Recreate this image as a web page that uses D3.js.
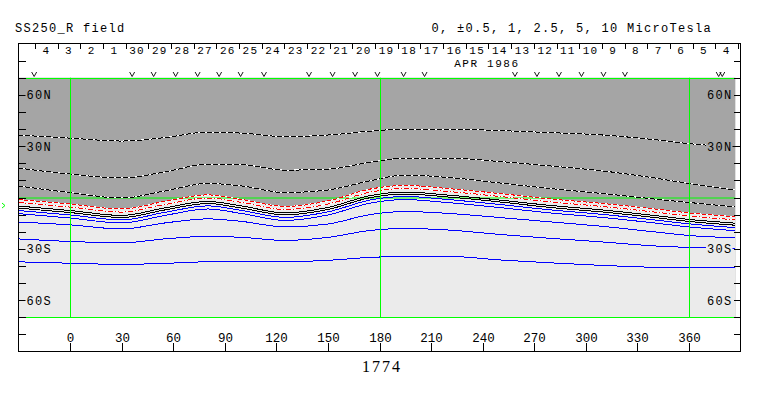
<!DOCTYPE html>
<html><head><meta charset="utf-8">
<script src="https://cdn.jsdelivr.net/npm/d3@7"></script>
<style>body{margin:0;background:#fff}svg{display:block}</style>
</head><body>
<svg id="chart" width="763" height="396"></svg>
<script>
// ---------- data ----------
const lons = [-30, 0, 30, 55, 80, 100, 125, 150, 175, 195, 220, 250, 280, 310, 340, 360, 387];
// negative contours (latitude, degrees)
const negA = [36.5, 34.7, 33.0, 35.0, 38.2, 37.6, 35.6, 36.5, 38.8, 40.0, 40.0, 39.1, 37.9, 36.5, 33.8, 31.5, 29.5];
const negB = [17.2, 13.7, 11.4, 14.9, 19.5, 19.2, 16.0, 16.6, 20.7, 23.0, 23.0, 21.0, 18.4, 15.5, 11.4, 8.2, 4.4];
const negC = [6.7, 2.9, -0.3, 3.8, 8.2, 6.7, 2.9, 4.4, 9.9, 13.1, 11.7, 8.5, 5.2, 2.3, -0.9, -2.9, -5.5];
const negHalf = [-1.2, -3.8, -6.7, -2.3, 1.5, -1.2, -5.2, -2.0, 5.0, 7.0, 5.2, 2.3, -0.9, -3.5, -6.7, -9.0, -11.2];
const negSmall = [-2.9, -5.6, -8.5, -4.1, -0.3, -2.9, -7.0, -3.8, 3.2, 5.2, 3.5, 0.6, -2.6, -5.3, -8.5, -10.8, -13.0];
// neutral / zero contours
const zeroA = [-5.0, -7.6, -10.5, -6.1, -2.3, -5.0, -9.0, -5.8, 1.2, 3.2, 1.4, -1.5, -4.7, -7.3, -10.5, -12.8, -15.0];
const zeroB = [-6.2, -8.8, -11.7, -7.3, -3.5, -6.2, -10.2, -7.0, 0.0, 2.0, 0.3, -2.6, -5.9, -8.5, -11.7, -14.0, -16.2];
// positive contours
const posA = [-7.6, -10.2, -13.1, -8.7, -4.9, -7.6, -11.6, -8.4, -1.4, 0.6, -1.2, -4.1, -7.3, -9.9, -13.1, -15.4, -17.6];
const posB = [-9.4, -12.0, -14.9, -10.5, -6.7, -9.4, -13.4, -10.2, -3.2, -1.2, -3.0, -5.9, -9.1, -11.7, -14.9, -17.2, -19.4];
const posC = [-14.3, -16.0, -18.4, -14.9, -12.5, -14.0, -17.2, -15.5, -9.9, -8.2, -9.3, -11.7, -14.3, -16.9, -20.1, -22.2, -23.6];
const posD = [-24.2, -25.7, -26.5, -24.2, -22.7, -23.3, -25.1, -23.3, -19.2, -18.1, -19.0, -21.6, -23.9, -26.0, -28.3, -29.2, -30.0];
const posE = [-37.6, -38.4, -39.1, -38.5, -37.6, -37.6, -37.6, -36.7, -35.0, -34.4, -34.4, -36.5, -38.2, -39.7, -40.8, -41.1, -41.1];

const lonTicks = [0, 30, 60, 90, 120, 150, 180, 210, 240, 270, 300, 330, 360];
const latLabels = [{lat: 60, t: "60N"}, {lat: 30, t: "30N"}, {lat: -30, t: "30S"}, {lat: -60, t: "60S"}];
const latTickVals = [80, 70, 60, 50, 40, 30, 20, 10, 0, -10, -20, -30, -40, -50, -60, -70, -80];
const greenLons = [0, 180, 360];
const dayLabels = ["4","3","2","1","30","29","28","27","26","25","24","23","22","21","20","19","18","17","16","15","14","13","12","11","10","9","8","7","6","5","4"];
const obsLons = [-20.9, 36.1, 48.6, 61.4, 74.2, 86.7, 99.2, 112.8, 139.0, 152.7, 165.8, 178.8, 194.0, 206.2, 258.8, 271.6, 284.4, 297.5, 310.3, 322.8, 377.3, 379.4];
const monthLabel = "APR 1986", monthLon = 242.5;
const earthLat = -4.7;
const title = "SS250_R field";
const legend = "0, \u00B10.5, 1, 2.5, 5, 10 MicroTesla";
const rotation = "1774";

// ---------- scales ----------
const svg = d3.select("#chart");
const x = d3.scaleLinear().domain([-30, 390]).range([18.5, 740.5]);
const y = d3.scaleLinear().domain([-90, 90]).range([351.5, 43.5]);
const t = d3.scaleUtc().domain([new Date(Date.UTC(1986,3,4)), new Date(Date.UTC(1986,4,5))]).range([x(388.5), x(-20.4)]);
const plotLon = [-30, 387], plotLat = [-70, 70];
const font = "'Liberation Mono', monospace";
const darkFill = "#a5a5a5", lightFill = "#ebebeb";

// ---------- fills ----------
svg.append("rect").attr("x", x(plotLon[0])).attr("y", y(plotLat[1]))
  .attr("width", x(plotLon[1]) - x(plotLon[0])).attr("height", y(plotLat[0]) - y(plotLat[1]))
  .attr("fill", darkFill);
const pts = arr => arr.map((v, i) => [lons[i], v]);
const area = d3.area().x(d => x(d[0])).y0(y(plotLat[0])).y1(d => y(d[1])).curve(d3.curveMonotoneX);
svg.append("path").attr("d", area(pts(negHalf))).attr("fill", lightFill);

// equator
svg.append("line").attr("x1", x(plotLon[0])).attr("x2", x(plotLon[1]))
  .attr("y1", y(0) + 0.5).attr("y2", y(0) + 0.5).attr("stroke", "#00ff00");

// ---------- contours ----------
const line = d3.line().x(d => x(d[0])).y(d => y(d[1])).curve(d3.curveMonotoneX);
const styles = [
  {d: negA, c: "#000", dash: "5,2", under: "#fff"},
  {d: negB, c: "#000", dash: "5,2", under: "#fff"},
  {d: negC, c: "#000", dash: "5,2", under: "#fff"},
  {d: negHalf, c: "#ff0000", dash: "4,2", under: "#fff"},
  {d: negSmall, c: "#ff0000", dash: "5,2,1,2", under: "#fff"},
  {d: zeroA, c: "#000"},
  {d: zeroB, c: "#000"},
  {d: posA, c: "#0000ff"},
  {d: posB, c: "#0000ff"},
  {d: posC, c: "#0000ff"},
  {d: posD, c: "#0000ff"},
  {d: posE, c: "#0000ff"}
];
const cg = svg.append("g").attr("fill", "none").attr("shape-rendering", "crispEdges");
styles.forEach(s => {
  const p = line(pts(s.d));
  if (s.under) cg.append("path").attr("d", p).attr("stroke", s.under).attr("stroke-width", 1);
  cg.append("path").attr("d", p).attr("stroke", s.c).attr("stroke-width", 1)
    .attr("stroke-dasharray", s.dash || null);
});

// green verticals and plot borders
greenLons.forEach(l => svg.append("line").attr("x1", Math.round(x(l)) + 0.5).attr("x2", Math.round(x(l)) + 0.5)
  .attr("y1", y(plotLat[1])).attr("y2", y(plotLat[0])).attr("stroke", "#00ff00"));
[plotLat[1], plotLat[0]].forEach(l => svg.append("line").attr("x1", x(plotLon[0])).attr("x2", x(plotLon[1]))
  .attr("y1", Math.round(y(l)) + 0.5).attr("y2", Math.round(y(l)) + 0.5).attr("stroke", "#00ff00"));

// ---------- frame ----------
svg.append("rect").attr("x", x(-30)).attr("y", y(90)).attr("width", x(390) - x(-30)).attr("height", y(-90) - y(90))
  .attr("fill", "none").attr("stroke", "#000");

// latitude ticks both sides
const tg = svg.append("g").attr("stroke", "#000").attr("shape-rendering", "crispEdges");
latTickVals.forEach(l => {
  const yy = Math.round(y(l)) + 0.5;
  tg.append("line").attr("x1", x(-30)).attr("x2", x(-30) + 7).attr("y1", yy).attr("y2", yy);
  tg.append("line").attr("x1", x(390) - 7).attr("x2", x(390)).attr("y1", yy).attr("y2", yy);
});
latLabels.forEach(d => {
  const bg = d.lat > 0 ? darkFill : lightFill;
  [["start", x(-30) + 8], ["end", x(390) - 8]].forEach(([anchor, xx]) => {
    const txt = svg.append("text").attr("x", xx).attr("y", y(d.lat) + 4.5).text(d.t).attr("text-anchor", anchor)
      .attr("font-family", font).attr("font-size", 12).attr("letter-spacing", 1.3);
    const b = txt.node().getBBox();
    svg.insert("rect", () => txt.node()).attr("x", b.x - 1).attr("y", y(d.lat) - 5).attr("width", b.width + 1)
      .attr("height", 11).attr("fill", bg);
  });
});

// bottom longitude axis
lonTicks.forEach(l => {
  const xx = Math.round(x(l)) + 0.5;
  tg.append("line").attr("x1", xx).attr("x2", xx).attr("y1", 343).attr("y2", y(-90));
  svg.append("text").attr("x", xx).attr("y", 342).attr("text-anchor", "middle").text(l)
    .attr("font-family", font).attr("font-size", 12.5);
});
svg.append("text").attr("x", 382).attr("y", 372).attr("text-anchor", "middle").text(rotation)
  .attr("font-family", "'Liberation Serif', serif").attr("font-size", 16).attr("letter-spacing", 2);

// ---------- date header ----------
const day0 = new Date(Date.UTC(1986, 4, 5));
for (let i = 0; i <= dayLabels.length; i++) {
  const xx = Math.round(t(d3.utcDay.offset(day0, -i))) + 0.5;
  tg.append("line").attr("x1", xx).attr("x2", xx).attr("y1", y(90)).attr("y2", y(90) + 5);
}
dayLabels.forEach((lab, i) => {
  const xm = t(d3.utcHour.offset(day0, -24 * i - 12));
  svg.append("text").attr("x", xm).attr("y", 54).attr("text-anchor", "middle").text(lab)
    .attr("font-family", font).attr("font-size", 11).attr("letter-spacing", 1.2);
});
svg.append("text").attr("x", x(monthLon)).attr("y", 67).attr("text-anchor", "middle").text(monthLabel)
  .attr("font-family", font).attr("font-size", 11).attr("letter-spacing", 1.6);
// observation markers (small v symbols)
svg.append("g").attr("fill", "none").attr("stroke", "#000").attr("stroke-width", 0.9)
  .selectAll("path").data(obsLons).join("path")
  .attr("d", l => `M${x(l) - 2.5},${72}L${x(l)},${76.5}L${x(l) + 2.5},${72}`);

// earth latitude marker
svg.append("path").attr("d", `M2,${y(earthLat) - 2.5}L5,${y(earthLat)}L2,${y(earthLat) + 2.5}`)
  .attr("fill", "none").attr("stroke", "#00ff00");

// titles
svg.append("text").attr("x", 15).attr("y", 32).text(title)
  .attr("font-family", font).attr("font-size", 12).attr("letter-spacing", 1.3);
svg.append("text").attr("x", 712).attr("y", 32).attr("text-anchor", "end").text(legend)
  .attr("font-family", font).attr("font-size", 12).attr("letter-spacing", 1.3);
</script>
</body></html>
